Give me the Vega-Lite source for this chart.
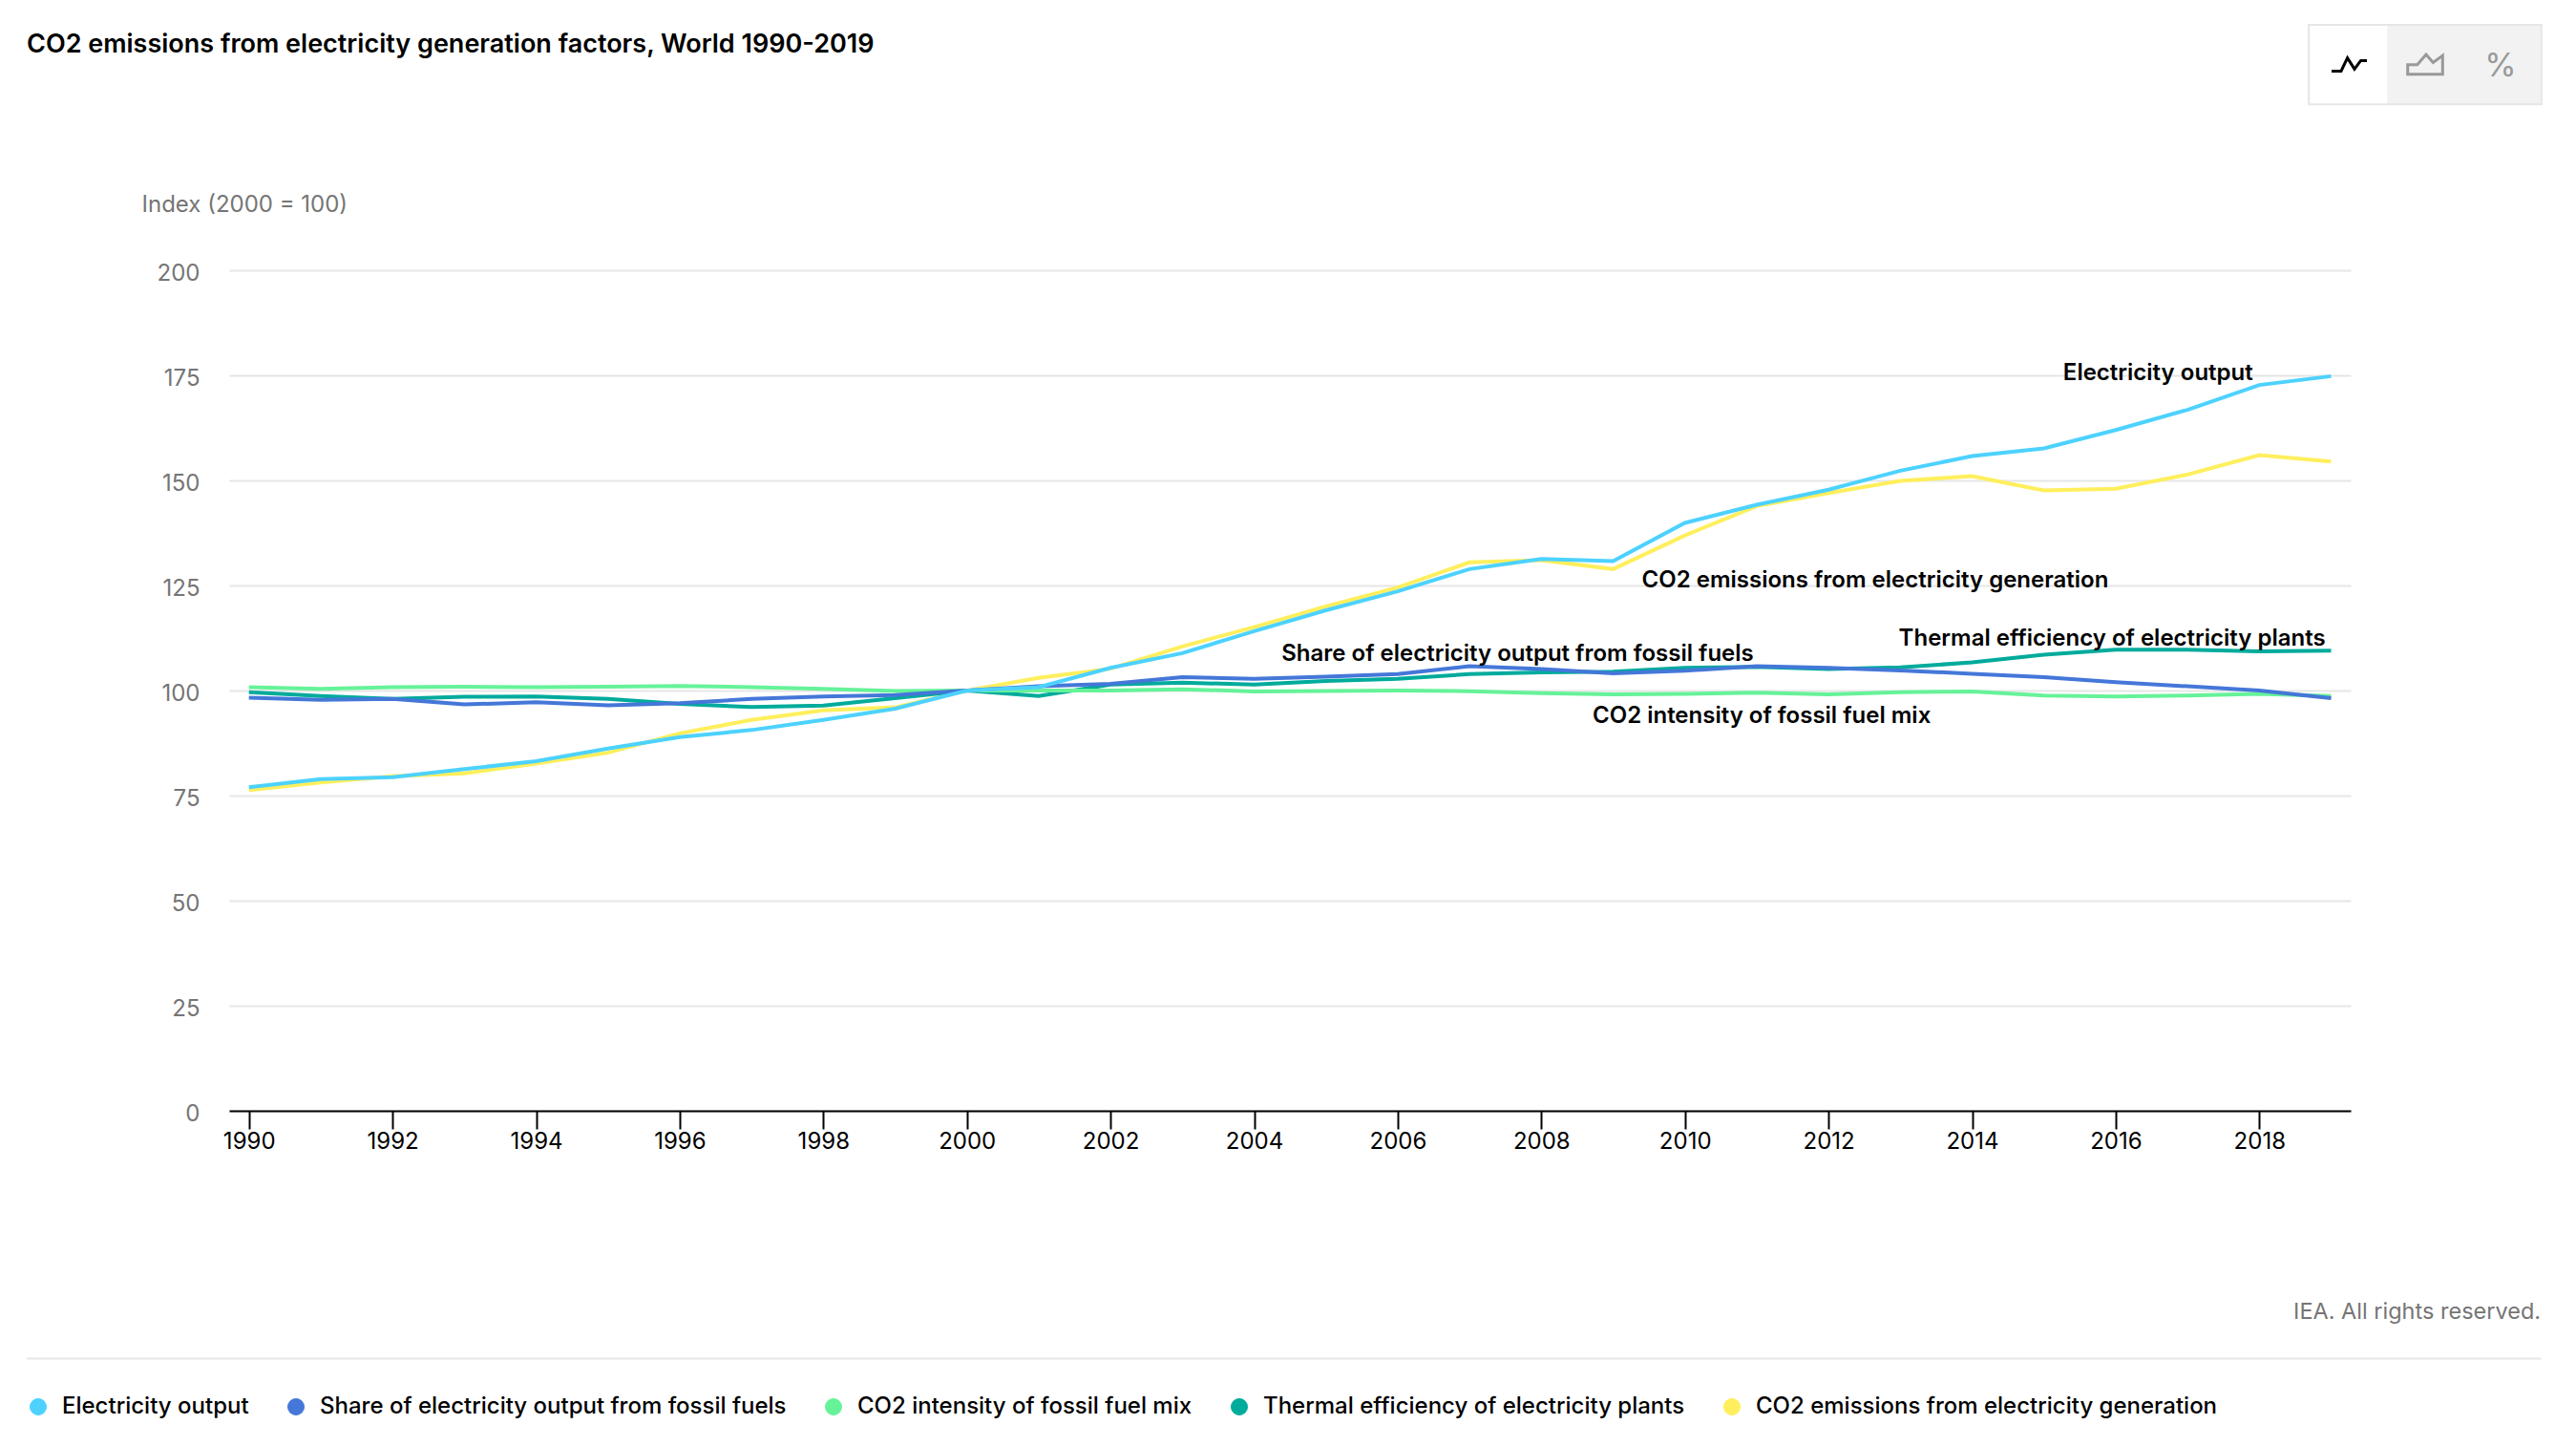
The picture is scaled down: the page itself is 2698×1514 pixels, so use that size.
{
"$schema":"https://vega.github.io/schema/vega-lite/v6.json",
"width":2222,"height":880,
"autosize":{"type":"none"},
"padding":{"left":240,"top":283,"right":236,"bottom":351},
"background":"white",
"config":{"view":{"stroke":null},"font":"Inter"},
"title":{"text":"CO2 emissions from electricity generation factors, World 1990-2019","anchor":"start","frame":"group","dx":-212,"offset":-36,"fontSize":27,"fontWeight":600,"font":"Inter","color":"#000000"},
"layer":[
{
"data":{"values":[
{"series":"CO2 emissions from electricity generation","year":1990,"value":76.3},{"series":"CO2 emissions from electricity generation","year":1991,"value":78.1},{"series":"CO2 emissions from electricity generation","year":1992,"value":79.6},{"series":"CO2 emissions from electricity generation","year":1993,"value":80.3},{"series":"CO2 emissions from electricity generation","year":1994,"value":82.6},{"series":"CO2 emissions from electricity generation","year":1995,"value":85.2},{"series":"CO2 emissions from electricity generation","year":1996,"value":89.8},{"series":"CO2 emissions from electricity generation","year":1997,"value":93},{"series":"CO2 emissions from electricity generation","year":1998,"value":95.3},{"series":"CO2 emissions from electricity generation","year":1999,"value":96},{"series":"CO2 emissions from electricity generation","year":2000,"value":100},{"series":"CO2 emissions from electricity generation","year":2001,"value":103},{"series":"CO2 emissions from electricity generation","year":2002,"value":105.2},{"series":"CO2 emissions from electricity generation","year":2003,"value":110.5},{"series":"CO2 emissions from electricity generation","year":2004,"value":115.1},{"series":"CO2 emissions from electricity generation","year":2005,"value":120},{"series":"CO2 emissions from electricity generation","year":2006,"value":124.5},{"series":"CO2 emissions from electricity generation","year":2007,"value":130.5},{"series":"CO2 emissions from electricity generation","year":2008,"value":131},{"series":"CO2 emissions from electricity generation","year":2009,"value":128.9},{"series":"CO2 emissions from electricity generation","year":2010,"value":136.9},{"series":"CO2 emissions from electricity generation","year":2011,"value":143.9},{"series":"CO2 emissions from electricity generation","year":2012,"value":147},{"series":"CO2 emissions from electricity generation","year":2013,"value":149.9},{"series":"CO2 emissions from electricity generation","year":2014,"value":151},{"series":"CO2 emissions from electricity generation","year":2015,"value":147.6},{"series":"CO2 emissions from electricity generation","year":2016,"value":148},{"series":"CO2 emissions from electricity generation","year":2017,"value":151.4},{"series":"CO2 emissions from electricity generation","year":2018,"value":156},{"series":"CO2 emissions from electricity generation","year":2019,"value":154.5},
{"series":"Thermal efficiency of electricity plants","year":1990,"value":99.6},{"series":"Thermal efficiency of electricity plants","year":1991,"value":98.7},{"series":"Thermal efficiency of electricity plants","year":1992,"value":98},{"series":"Thermal efficiency of electricity plants","year":1993,"value":98.5},{"series":"Thermal efficiency of electricity plants","year":1994,"value":98.6},{"series":"Thermal efficiency of electricity plants","year":1995,"value":98},{"series":"Thermal efficiency of electricity plants","year":1996,"value":96.8},{"series":"Thermal efficiency of electricity plants","year":1997,"value":96.1},{"series":"Thermal efficiency of electricity plants","year":1998,"value":96.4},{"series":"Thermal efficiency of electricity plants","year":1999,"value":98.2},{"series":"Thermal efficiency of electricity plants","year":2000,"value":100},{"series":"Thermal efficiency of electricity plants","year":2001,"value":98.7},{"series":"Thermal efficiency of electricity plants","year":2002,"value":101.4},{"series":"Thermal efficiency of electricity plants","year":2003,"value":101.9},{"series":"Thermal efficiency of electricity plants","year":2004,"value":101.4},{"series":"Thermal efficiency of electricity plants","year":2005,"value":102.3},{"series":"Thermal efficiency of electricity plants","year":2006,"value":102.8},{"series":"Thermal efficiency of electricity plants","year":2007,"value":103.9},{"series":"Thermal efficiency of electricity plants","year":2008,"value":104.3},{"series":"Thermal efficiency of electricity plants","year":2009,"value":104.5},{"series":"Thermal efficiency of electricity plants","year":2010,"value":105.4},{"series":"Thermal efficiency of electricity plants","year":2011,"value":105.6},{"series":"Thermal efficiency of electricity plants","year":2012,"value":105.1},{"series":"Thermal efficiency of electricity plants","year":2013,"value":105.5},{"series":"Thermal efficiency of electricity plants","year":2014,"value":106.7},{"series":"Thermal efficiency of electricity plants","year":2015,"value":108.5},{"series":"Thermal efficiency of electricity plants","year":2016,"value":109.7},{"series":"Thermal efficiency of electricity plants","year":2017,"value":109.7},{"series":"Thermal efficiency of electricity plants","year":2018,"value":109.3},{"series":"Thermal efficiency of electricity plants","year":2019,"value":109.5},
{"series":"CO2 intensity of fossil fuel mix","year":1990,"value":100.8},{"series":"CO2 intensity of fossil fuel mix","year":1991,"value":100.4},{"series":"CO2 intensity of fossil fuel mix","year":1992,"value":100.8},{"series":"CO2 intensity of fossil fuel mix","year":1993,"value":100.9},{"series":"CO2 intensity of fossil fuel mix","year":1994,"value":100.8},{"series":"CO2 intensity of fossil fuel mix","year":1995,"value":100.9},{"series":"CO2 intensity of fossil fuel mix","year":1996,"value":101.1},{"series":"CO2 intensity of fossil fuel mix","year":1997,"value":100.8},{"series":"CO2 intensity of fossil fuel mix","year":1998,"value":100.4},{"series":"CO2 intensity of fossil fuel mix","year":1999,"value":99.9},{"series":"CO2 intensity of fossil fuel mix","year":2000,"value":100},{"series":"CO2 intensity of fossil fuel mix","year":2001,"value":100},{"series":"CO2 intensity of fossil fuel mix","year":2002,"value":100},{"series":"CO2 intensity of fossil fuel mix","year":2003,"value":100.3},{"series":"CO2 intensity of fossil fuel mix","year":2004,"value":99.8},{"series":"CO2 intensity of fossil fuel mix","year":2005,"value":99.9},{"series":"CO2 intensity of fossil fuel mix","year":2006,"value":100},{"series":"CO2 intensity of fossil fuel mix","year":2007,"value":99.85},{"series":"CO2 intensity of fossil fuel mix","year":2008,"value":99.4},{"series":"CO2 intensity of fossil fuel mix","year":2009,"value":99.1},{"series":"CO2 intensity of fossil fuel mix","year":2010,"value":99.2},{"series":"CO2 intensity of fossil fuel mix","year":2011,"value":99.5},{"series":"CO2 intensity of fossil fuel mix","year":2012,"value":99.1},{"series":"CO2 intensity of fossil fuel mix","year":2013,"value":99.6},{"series":"CO2 intensity of fossil fuel mix","year":2014,"value":99.8},{"series":"CO2 intensity of fossil fuel mix","year":2015,"value":98.8},{"series":"CO2 intensity of fossil fuel mix","year":2016,"value":98.6},{"series":"CO2 intensity of fossil fuel mix","year":2017,"value":98.8},{"series":"CO2 intensity of fossil fuel mix","year":2018,"value":99.2},{"series":"CO2 intensity of fossil fuel mix","year":2019,"value":98.7},
{"series":"Share of electricity output from fossil fuels","year":1990,"value":98.3},{"series":"Share of electricity output from fossil fuels","year":1991,"value":97.8},{"series":"Share of electricity output from fossil fuels","year":1992,"value":98},{"series":"Share of electricity output from fossil fuels","year":1993,"value":96.7},{"series":"Share of electricity output from fossil fuels","year":1994,"value":97.2},{"series":"Share of electricity output from fossil fuels","year":1995,"value":96.5},{"series":"Share of electricity output from fossil fuels","year":1996,"value":97},{"series":"Share of electricity output from fossil fuels","year":1997,"value":98},{"series":"Share of electricity output from fossil fuels","year":1998,"value":98.6},{"series":"Share of electricity output from fossil fuels","year":1999,"value":98.9},{"series":"Share of electricity output from fossil fuels","year":2000,"value":100},{"series":"Share of electricity output from fossil fuels","year":2001,"value":101},{"series":"Share of electricity output from fossil fuels","year":2002,"value":101.6},{"series":"Share of electricity output from fossil fuels","year":2003,"value":103.2},{"series":"Share of electricity output from fossil fuels","year":2004,"value":102.8},{"series":"Share of electricity output from fossil fuels","year":2005,"value":103.3},{"series":"Share of electricity output from fossil fuels","year":2006,"value":103.9},{"series":"Share of electricity output from fossil fuels","year":2007,"value":105.8},{"series":"Share of electricity output from fossil fuels","year":2008,"value":105.1},{"series":"Share of electricity output from fossil fuels","year":2009,"value":104.1},{"series":"Share of electricity output from fossil fuels","year":2010,"value":104.7},{"series":"Share of electricity output from fossil fuels","year":2011,"value":105.8},{"series":"Share of electricity output from fossil fuels","year":2012,"value":105.4},{"series":"Share of electricity output from fossil fuels","year":2013,"value":104.8},{"series":"Share of electricity output from fossil fuels","year":2014,"value":104},{"series":"Share of electricity output from fossil fuels","year":2015,"value":103.2},{"series":"Share of electricity output from fossil fuels","year":2016,"value":102},{"series":"Share of electricity output from fossil fuels","year":2017,"value":101},{"series":"Share of electricity output from fossil fuels","year":2018,"value":100},{"series":"Share of electricity output from fossil fuels","year":2019,"value":98.2},
{"series":"Electricity output","year":1990,"value":77},{"series":"Electricity output","year":1991,"value":78.9},{"series":"Electricity output","year":1992,"value":79.4},{"series":"Electricity output","year":1993,"value":81.3},{"series":"Electricity output","year":1994,"value":83.2},{"series":"Electricity output","year":1995,"value":86.2},{"series":"Electricity output","year":1996,"value":88.9},{"series":"Electricity output","year":1997,"value":90.6},{"series":"Electricity output","year":1998,"value":93},{"series":"Electricity output","year":1999,"value":95.7},{"series":"Electricity output","year":2000,"value":100},{"series":"Electricity output","year":2001,"value":100.8},{"series":"Electricity output","year":2002,"value":105.4},{"series":"Electricity output","year":2003,"value":108.9},{"series":"Electricity output","year":2004,"value":114.1},{"series":"Electricity output","year":2005,"value":119.1},{"series":"Electricity output","year":2006,"value":123.6},{"series":"Electricity output","year":2007,"value":128.9},{"series":"Electricity output","year":2008,"value":131.3},{"series":"Electricity output","year":2009,"value":130.8},{"series":"Electricity output","year":2010,"value":139.9},{"series":"Electricity output","year":2011,"value":144.2},{"series":"Electricity output","year":2012,"value":147.8},{"series":"Electricity output","year":2013,"value":152.3},{"series":"Electricity output","year":2014,"value":155.8},{"series":"Electricity output","year":2015,"value":157.6},{"series":"Electricity output","year":2016,"value":162},{"series":"Electricity output","year":2017,"value":166.8},{"series":"Electricity output","year":2018,"value":172.7},{"series":"Electricity output","year":2019,"value":174.8}
]},
"mark":{"type":"line","strokeWidth":4,"interpolate":"linear"},
"encoding":{
"x":{"field":"year","type":"quantitative","title":null,"scale":{"domain":[1989.7247,2019.2726],"nice":false,"zero":false},
"axis":{"values":[1990,1992,1994,1996,1998,2000,2002,2004,2006,2008,2010,2012,2014,2016,2018],"format":"d","grid":false,"domainColor":"#000000","domainWidth":2,"tickColor":"#000000","tickWidth":2,"tickSize":19,"labelColor":"#000000","labelFontSize":24,"labelFont":"Inter","labelPadding":1,"labelFlush":false,"labelOverlap":false}},
"y":{"field":"value","type":"quantitative","title":"Index (2000 = 100)","scale":{"domain":[0,200],"nice":false},
"axis":{"values":[0,25,50,75,100,125,150,175,200],"domain":false,"ticks":false,"grid":true,"gridColor":"#e6e6e6","gridWidth":2,"labelColor":"#757575","labelFontSize":24,"labelFont":"Inter","labelPadding":31,"labelOffset":3.5,"titleFont":"Inter","titleFontSize":24,"titleFontWeight":400,"titleColor":"#757575","titleAngle":0,"titleAlign":"left","titleBaseline":"middle","titleX":-92,"titleY":-68.5}},
"color":{"field":"series","type":"nominal","scale":{"domain":["Electricity output","Share of electricity output from fossil fuels","CO2 intensity of fossil fuel mix","Thermal efficiency of electricity plants","CO2 emissions from electricity generation"],"range":["#4dd2ff","#4477d8","#66f299","#00ab9c","#ffef5c"]},
"legend":{"orient":"none","legendX":-212,"legendY":1178,"direction":"horizontal","columns":5,"title":null,"symbolType":"circle","symbolSize":289,"symbolStrokeColor":"#333333","symbolStrokeWidth":1,"labelFont":"Inter","labelFontSize":24,"labelFontWeight":500,"labelColor":"#000000","labelLimit":900,"labelOffset":13,"columnPadding":37,
"encode":{"symbols":{"update":{"fill":{"scale":"color","field":"value"},"stroke":{"value":"#333333"},"strokeWidth":{"value":1},"opacity":{"value":1}}}}}}
}
},
{
"data":{"values":[
{"label":"Electricity output","year":2016.59,"value":175.35},
{"label":"CO2 emissions from electricity generation","year":2012.65,"value":126.25},
{"label":"Share of electricity output from fossil fuels","year":2007.67,"value":108.55},
{"label":"CO2 intensity of fossil fuel mix","year":2011.07,"value":93.9},
{"label":"Thermal efficiency of electricity plants","year":2015.95,"value":112.35}
]},
"mark":{"type":"text","font":"Inter","fontSize":24,"fontWeight":600,"color":"#000000","baseline":"middle","align":"center"},
"encoding":{
"x":{"field":"year","type":"quantitative","title":null},
"y":{"field":"value","type":"quantitative","title":"Index (2000 = 100)"},
"text":{"field":"label"}
}
},
{
"data":{"values":[{"note":"IEA. All rights reserved."}]},
"mark":{"type":"text","font":"Inter","fontSize":23.5,"color":"#757575","align":"right","baseline":"middle"},
"encoding":{"x":{"datum":2021.92,"title":null},"y":{"datum":-47.95,"title":"Index (2000 = 100)"},"text":{"field":"note"}}
},
{
"data":{"values":[{}]},
"mark":{"type":"rule","color":"#e6e6e6","strokeWidth":2},
"encoding":{"x":{"datum":1986.906,"title":null},"x2":{"datum":2021.925},"y":{"datum":-59,"title":"Index (2000 = 100)"}}
},
{
"data":{"values":[{}]},
"mark":{"type":"rect","fill":"#f2f2f2","stroke":"#e6e6e6","strokeWidth":2},
"encoding":{"x":{"datum":2018.69,"title":null},"x2":{"datum":2021.93},"y":{"datum":258.4,"title":"Index (2000 = 100)"},"y2":{"datum":239.5}}
},
{
"data":{"values":[{}]},
"mark":{"type":"rect","fill":"#ffffff"},
"encoding":{"x":{"datum":2018.705,"title":null},"x2":{"datum":2019.78},"y":{"datum":258.2,"title":"Index (2000 = 100)"},"y2":{"datum":239.7}}
},
{
"data":{"values":[{}]},
"mark":{"type":"point","shape":"M -18.3 7 L -8.3 7 L -1.7 -6.7 L 5.7 5 L 12.3 -4 L 18.7 -4","size":4,"filled":false,"stroke":"#000000","strokeWidth":3,"opacity":1},
"encoding":{"x":{"datum":2019.25,"title":null},"y":{"datum":249,"title":"Index (2000 = 100)"}}
},
{
"data":{"values":[{}]},
"mark":{"type":"point","shape":"M -18.3 10 L -18.3 0 L -8.3 0 L 1 -10.7 L 8.3 -2.3 L 18.3 -9.7 L 18.3 10 Z","size":4,"filled":false,"stroke":"#999999","strokeWidth":3,"opacity":1},
"encoding":{"x":{"datum":2020.31,"title":null},"y":{"datum":248.9,"title":"Index (2000 = 100)"}}
},
{
"data":{"values":[{"icon":"%"}]},
"mark":{"type":"text","font":"Inter","fontSize":34,"color":"#999999","align":"center","baseline":"middle"},
"encoding":{"x":{"datum":2021.36,"title":null},"y":{"datum":248.5,"title":"Index (2000 = 100)"},"text":{"field":"icon"}}
}
]
}
